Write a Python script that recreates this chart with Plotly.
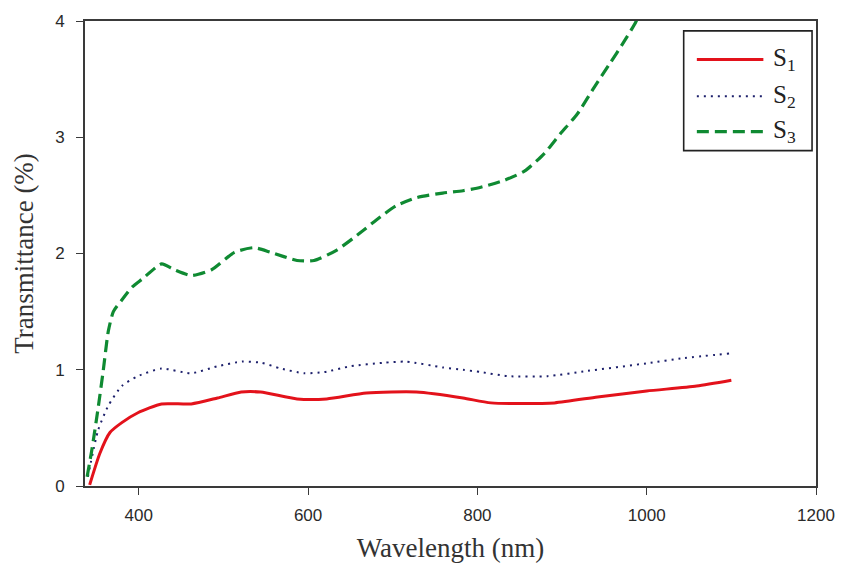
import plotly.graph_objects as go

# Transmittance spectra of the three samples (wavelength in nm, transmittance in %)
s1_wavelength = [342, 354, 366, 380, 399, 427, 462, 493, 521, 544, 587, 622, 669, 728,
                 783, 816, 891, 942, 1000, 1059, 1100]
s1_transmittance = [0.01, 0.28, 0.46, 0.545, 0.63, 0.706, 0.706, 0.757, 0.808, 0.808, 0.749,
                    0.749, 0.80, 0.808, 0.757, 0.715, 0.715, 0.766, 0.817, 0.86, 0.91]

s2_wavelength = [340, 352, 364, 380, 399, 427, 462, 493, 522, 545, 568, 595, 619, 650, 689,
                 716, 759, 783, 804, 836, 883, 930, 1000, 1044, 1098]
s2_transmittance = [0.08, 0.48, 0.69, 0.86, 0.945, 1.01, 0.97, 1.03, 1.07, 1.06, 1.01, 0.97,
                    0.98, 1.03, 1.06, 1.07, 1.02, 1.0, 0.98, 0.945, 0.945, 0.99, 1.055, 1.10, 1.14]

s3_wavelength = [339, 345, 352, 358, 364, 370, 380, 392, 404, 427, 442, 462, 486, 513, 536,
                 556, 587, 607, 634, 662, 681, 704, 728, 759, 783, 804, 832, 856, 879, 898,
                 918, 938, 957, 973, 987, 1000, 1020]
s3_transmittance = [0.08, 0.33, 0.67, 0.99, 1.33, 1.50, 1.60, 1.71, 1.78, 1.91, 1.86, 1.81,
                    1.86, 2.01, 2.05, 2.01, 1.94, 1.94, 2.03, 2.18, 2.29, 2.41, 2.48, 2.52,
                    2.54, 2.57, 2.63, 2.71, 2.86, 3.03, 3.20, 3.43, 3.64, 3.82, 3.99, 4.2, 4.5]

x_ticks = [400, 600, 800, 1000, 1200]
y_ticks = [0, 1, 2, 3, 4]

series_names = ["S<sub>1</sub>", "S<sub>2</sub>", "S<sub>3</sub>"]
colors = ["#e3121b", "#1c1f6b", "#0f8a32"]
dashes = ["solid", "2px,5px", "12px,6px"]
widths = [3, 2, 3.2]

fig = go.Figure()
for xs, ys, name, c, d, w in zip(
    [s1_wavelength, s2_wavelength, s3_wavelength],
    [s1_transmittance, s2_transmittance, s3_transmittance],
    series_names, colors, dashes, widths,
):
    fig.add_trace(go.Scatter(x=xs, y=ys, mode="lines", name=name, showlegend=False,
                             line=dict(color=c, width=w, dash=d, shape="spline", smoothing=0.6)))

axis_color = "#3a3a3a"
serif = "Liberation Serif, Times New Roman, serif"
sans = "Liberation Sans, Arial, sans-serif"
fig.update_xaxes(range=[336.5, 1200], tickvals=x_ticks, ticks="outside", ticklen=7, tickwidth=1.3,
                 tickcolor=axis_color, showline=True, linecolor=axis_color, linewidth=1.6,
                 mirror=True, showgrid=False, zeroline=False, ticklabelstandoff=6,
                 tickfont=dict(family=sans, size=17, color="#2a2a2a"),
                 title=dict(text="Wavelength (nm)", standoff=14,
                            font=dict(family=serif, size=27, color="#333")))
fig.update_yaxes(range=[0, 4], tickvals=y_ticks, ticks="outside", ticklen=7, tickwidth=1.3,
                 tickcolor=axis_color, showline=True, linecolor=axis_color, linewidth=1.6,
                 mirror=True, showgrid=False, zeroline=False, ticklabelstandoff=8,
                 tickfont=dict(family=sans, size=17, color="#2a2a2a"),
                 title=dict(text="Transmittance (%)", standoff=14,
                            font=dict(family=serif, size=27, color="#333")))

# Legend box drawn in paper coordinates
shapes = [dict(type="rect", xref="paper", yref="paper", x0=0.819, x1=0.9946, y0=0.7213, y1=0.9787,
               line=dict(color="#222", width=1.6), fillcolor="white", layer="above")]
annotations = []
rows_y = [0.917, 0.838, 0.762]
for ry, name, c, d, w in zip(rows_y, series_names, colors, dashes, widths):
    shapes.append(dict(type="line", xref="paper", yref="paper", x0=0.837, x1=0.928, y0=ry, y1=ry,
                       line=dict(color=c, width=w, dash=d), layer="above"))
    annotations.append(dict(xref="paper", yref="paper", x=0.939, y=ry, xanchor="left", yanchor="middle",
                            text=name, showarrow=False,
                            font=dict(family=serif, size=25, color="#222")))

fig.update_layout(
    width=847, height=574,
    margin=dict(l=85, r=27, t=16, b=88),
    paper_bgcolor="white", plot_bgcolor="white",
    shapes=shapes, annotations=annotations,
)

fig.write_html("out.html")
